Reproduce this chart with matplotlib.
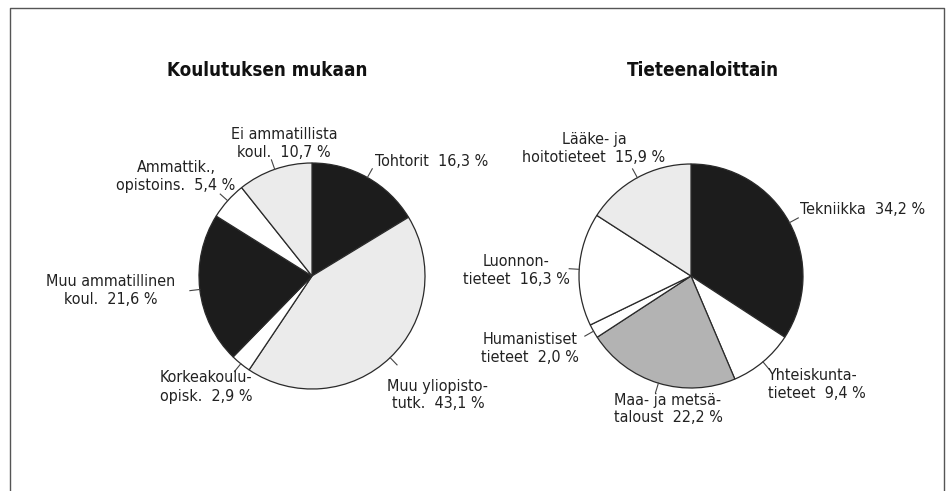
import numpy as np
import matplotlib
matplotlib.use("Agg")
import matplotlib.pyplot as plt
from matplotlib import font_manager as fm

# pick a narrow font if one is installed
_names = {(f.name, f.stretch) for f in fm.fontManager.ttflist}
if any(n == "Liberation Sans Narrow" for n, _ in _names):
    FAMILY, STRETCH = "Liberation Sans Narrow", "normal"
elif any(n == "DejaVu Sans" and s in ("condensed", "semi-condensed") for n, s in _names):
    FAMILY, STRETCH = "DejaVu Sans", "condensed"
else:
    FAMILY, STRETCH = "Roboto", "normal"
plt.rcParams["font.family"] = [FAMILY, "DejaVu Sans"]
plt.rcParams["font.stretch"] = STRETCH

W, H = 953, 491

# ---- data ----
title_l = "Koulutuksen mukaan"
labels_l = ["Tohtorit", "Muu yliopisto-\ntutk.", "Korkeakoulu-\nopisk.",
            "Muu ammatillinen\nkoul.", "Ammattik.,\nopistoins.", "Ei ammatillista\nkoul."]
values_l = [16.3, 43.1, 2.9, 21.6, 5.4, 10.7]

title_r = "Tieteenaloittain"
labels_r = ["Tekniikka", "Yhteiskunta-\ntieteet", "Maa- ja metsä-\ntaloust",
            "Humanistiset\ntieteet", "Luonnon-\ntieteet", "Lääke- ja\nhoitotieteet"]
values_r = [34.2, 9.4, 22.2, 2.0, 16.3, 15.9]

# ---- styles / layout (pixel coords, y down) ----
BLACK, LIGHT, MID, WHITE = "#1c1c1c", "#ebebeb", "#b3b3b3", "#ffffff"
colors_l = [BLACK, LIGHT, WHITE, BLACK, WHITE, LIGHT]
colors_r = [BLACK, WHITE, MID, WHITE, WHITE, LIGHT]

pie_l = dict(cx=312, cy=276, r=113)
pie_r = dict(cx=691, cy=276, r=112)

# text anchor (x, y, ha) per slice
pos_l = [(375, 161, "left"), (438, 395, "center"), (206, 387, "center"),
         (111, 291, "center"), (176, 176, "center"), (284, 143, "center")]
pos_r = [(800, 209, "left"), (768, 385, "left"), (668, 409, "center"),
         (530, 349, "center"), (516, 270, "center"), (594, 148, "center")]


def fmt(v):
    return f"{v:.1f}".replace(".", ",") + " %"


fig = plt.figure(figsize=(W / 100, H / 100), dpi=100)
ax = fig.add_axes([0, 0, 1, 1])


def draw_pie(values, colors, labels, pos, p, title, tx):
    cx, cy, r = p["cx"], H - p["cy"], p["r"]
    wedges, _ = ax.pie(values, colors=colors, startangle=90, counterclock=False,
                       center=(cx, cy), radius=r,
                       wedgeprops=dict(edgecolor="#2a2a2a", linewidth=0.9))
    for w, lab, v, (x, y, ha) in zip(wedges, labels, values, pos):
        ang = np.deg2rad((w.theta1 + w.theta2) / 2)
        x0, y0 = cx + r * np.cos(ang), cy + r * np.sin(ang)
        x1, y1 = cx + (r + 10) * np.cos(ang), cy + (r + 10) * np.sin(ang)
        ax.plot([x0, x1], [y0, y1], color="#444444", lw=0.8)
        ax.text(x, H - y, lab + "  " + fmt(v), ha=ha, va="center",
                multialignment="center" if ha == "center" else "left",
                fontsize=11.5, color="#222222", linespacing=1.25)
    ax.text(tx, H - 70, title, ha="center", va="center", fontsize=13.5,
            fontweight="bold", color="#111111")


draw_pie(values_l, colors_l, labels_l, pos_l, pie_l, title_l, 267)
draw_pie(values_r, colors_r, labels_r, pos_r, pie_r, title_r, 703)

# frame (open at the bottom, as in the scan)
ax.plot([10, 10, 944, 944], [0, H - 8, H - 8, 0], color="#555555", lw=1.0)

ax.set_xlim(0, W)
ax.set_ylim(0, H)
ax.set_aspect("equal")
ax.axis("off")

fig.savefig("out.png", dpi=100)
